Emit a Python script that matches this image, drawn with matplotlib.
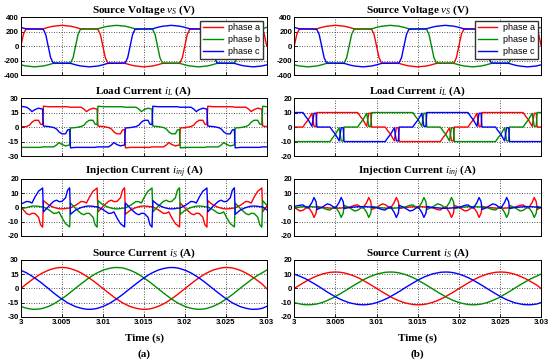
import numpy as np
import matplotlib.pyplot as plt

plt.rcParams['font.family'] = 'Liberation Sans'
plt.rcParams['axes.unicode_minus'] = False
plt.rcParams['mathtext.fontset'] = 'custom'
plt.rcParams['mathtext.rm'] = 'Liberation Serif:bold'
plt.rcParams['mathtext.it'] = 'Liberation Serif:italic'
plt.rcParams['mathtext.bf'] = 'Liberation Serif:bold'

# sample times in ms after t = 3 s
v_ms = [0.0, 0.3, 0.6, 1.67, 2.73, 3.03,
        3.33, 3.63, 3.93, 5.0, 6.07, 6.37,
        6.67, 6.97, 7.27, 8.33, 9.4, 9.7,
        10.0, 10.3, 10.6, 11.67, 12.73, 13.03,
        13.33, 13.63, 13.93, 15.0, 16.07, 16.37,
        16.67, 16.97, 17.27, 18.33, 19.4, 19.7,
        20.0, 20.3, 20.6, 21.67, 22.73, 23.03,
        23.33, 23.63, 23.93, 25.0, 26.07, 26.37,
        26.67, 26.97, 27.27, 28.33, 29.4, 29.7,
        30.0]

t_ms = [0.0,
        0.7, 1.05, 1.35, 1.7, 2.15, 2.4, 2.65, 2.75, 3.4,
        4.0, 4.35, 4.65, 5.0, 5.45, 5.7, 5.95, 6.05, 6.7,
        7.35, 7.7, 8.0, 8.35, 8.8, 9.05, 9.3, 9.4, 10.05,
        10.7, 11.05, 11.35, 11.7, 12.15, 12.4, 12.65, 12.75, 13.4,
        14.05, 14.4, 14.7, 15.05, 15.5, 15.75, 16.0, 16.1, 16.75,
        17.4, 17.75, 18.05, 18.4, 18.85, 19.1, 19.35, 19.45, 20.1,
        20.75, 21.1, 21.4, 21.75, 22.2, 22.45, 22.7, 22.8, 23.45,
        24.1, 24.45, 24.75, 25.1, 25.55, 25.8, 26.05, 26.15, 26.8,
        27.45, 27.8, 28.1, 28.45, 28.9, 29.15, 29.4, 29.5, 30.0]

# source voltage (same in (a) and (b))
vs_a = [0, 160, 232, 236, 238, 248,
        258, 266, 273, 286, 274, 266,
        258, 248, 238, 236, 232, 160,
        0, -160, -232, -236, -238, -248,
        -258, -266, -273, -286, -274, -266,
        -258, -248, -238, -236, -232, -160,
        0, 160, 232, 236, 238, 248,
        258, 266, 273, 286, 274, 266,
        258, 248, 238, 236, 232, 160,
        0]
vs_b = [-258, -266, -273, -286, -274, -266,
        -258, -248, -238, -236, -232, -160,
        0, 160, 232, 236, 238, 248,
        258, 266, 273, 286, 274, 266,
        258, 248, 238, 236, 232, 160,
        0, -160, -232, -236, -238, -248,
        -258, -266, -273, -286, -274, -266,
        -258, -248, -238, -236, -232, -160,
        0, 160, 232, 236, 238, 248,
        258]
vs_c = [258, 248, 238, 236, 232, 160,
        0, -160, -232, -236, -238, -248,
        -258, -266, -273, -286, -274, -266,
        -258, -248, -238, -236, -232, -160,
        0, 160, 232, 236, 238, 248,
        258, 266, 273, 286, 274, 266,
        258, 248, 238, 236, 232, 160,
        0, -160, -232, -236, -238, -248,
        -258, -266, -273, -286, -274, -266,
        -258]

# (a) load current
il1_a = [0.3,
         0.5, 2, 5, 7, 7, 3, 2.5, 21.5, 21,
         21, 21, 21, 21, 21, 21, 20.5, 20.5, 20.5,
         20.5, 18.5, 16, 18, 19.5, 19, 18.5, 1, 0.5,
         -0.5, -2, -5, -7, -7, -3, -2.5, -21.5, -21,
         -21, -21, -21, -21, -21, -21, -20.5, -20.5, -20.5,
         -20.5, -18.5, -16, -18, -19.5, -19, -18.5, -1, -0.5,
         0.5, 2, 5, 7, 7, 3, 2.5, 21.5, 21,
         21, 21, 21, 21, 21, 21, 20.5, 20.5, 20.5,
         20.5, 18.5, 16, 18, 19.5, 19, 18.5, 1, 0.5]
il1_b = [-21,
         -21, -21, -21, -21, -21, -21, -20.5, -20.5, -20.5,
         -20.5, -18.5, -16, -18, -19.5, -19, -18.5, -1, -0.5,
         0.5, 2, 5, 7, 7, 3, 2.5, 21.5, 21,
         21, 21, 21, 21, 21, 21, 20.5, 20.5, 20.5,
         20.5, 18.5, 16, 18, 19.5, 19, 18.5, 1, 0.5,
         -0.5, -2, -5, -7, -7, -3, -2.5, -21.5, -21,
         -21, -21, -21, -21, -21, -21, -20.5, -20.5, -20.5,
         -20.5, -18.5, -16, -18, -19.5, -19, -18.5, -1, -0.5,
         0.5, 2, 5, 7, 7, 3, 2.5, 21.5, 21]
il1_c = [21.5,
         20.5, 18.5, 16, 18, 19.5, 19, 18.5, 1, 0.5,
         -0.5, -2, -5, -7, -7, -3, -2.5, -21.5, -21,
         -21, -21, -21, -21, -21, -21, -20.5, -20.5, -20.5,
         -20.5, -18.5, -16, -18, -19.5, -19, -18.5, -1, -0.5,
         0.5, 2, 5, 7, 7, 3, 2.5, 21.5, 21,
         21, 21, 21, 21, 21, 21, 20.5, 20.5, 20.5,
         20.5, 18.5, 16, 18, 19.5, 19, 18.5, 1, 0.5,
         -0.5, -2, -5, -7, -7, -3, -2.5, -21.5, -21,
         -21, -21, -21, -21, -21, -21, -20.5, -20.5, -20.5]

# (a) injection current
ij1_a = [0.3,
         -4.3, -5.1, -4.1, -4.2, -6.8, -12.1, -13.8, 4.8, 1.7,
         0.1, -0.5, -0.9, -1.0, -0.8, -0.5, -0.5, -0.3, 1.6,
         4.2, 4.0, 3.1, 7.1, 11.4, 12.5, 13.7, -3.1, 0.9,
         4.3, 5.1, 4.1, 4.2, 6.8, 12.1, 13.8, -4.8, -1.7,
         -0.1, 0.5, 0.9, 1.0, 0.8, 0.5, 0.5, 0.3, -1.6,
         -4.2, -4.0, -3.1, -7.1, -11.4, -12.5, -13.7, 3.1, -0.9,
         -4.3, -5.1, -4.1, -4.2, -6.8, -12.1, -13.8, 4.8, 1.7,
         0.1, -0.5, -0.9, -1.0, -0.8, -0.5, -0.5, -0.3, 1.6,
         4.2, 4.0, 3.1, 7.1, 11.4, 12.5, 13.7, -3.1, 0.9]
ij1_b = [-0.8,
         -0.1, 0.5, 0.9, 1.0, 0.8, 0.5, 0.5, 0.3, -1.6,
         -4.2, -4.0, -3.1, -7.1, -11.4, -12.5, -13.7, 3.1, -0.9,
         -4.3, -5.1, -4.1, -4.2, -6.8, -12.1, -13.8, 4.8, 1.7,
         0.1, -0.5, -0.9, -1.0, -0.8, -0.5, -0.5, -0.3, 1.6,
         4.2, 4.0, 3.1, 7.1, 11.4, 12.5, 13.7, -3.1, 0.9,
         4.3, 5.1, 4.1, 4.2, 6.8, 12.1, 13.8, -4.8, -1.7,
         -0.1, 0.5, 0.9, 1.0, 0.8, 0.5, 0.5, 0.3, -1.6,
         -4.2, -4.0, -3.1, -7.1, -11.4, -12.5, -13.7, 3.1, -0.9,
         -4.3, -5.1, -4.1, -4.2, -6.8, -12.1, -13.8, 4.8, 1.7]
ij1_c = [2.4,
         4.2, 4.0, 3.1, 7.1, 11.4, 12.5, 13.7, -3.1, 0.9,
         4.3, 5.1, 4.1, 4.2, 6.8, 12.1, 13.8, -4.8, -1.7,
         -0.1, 0.5, 0.9, 1.0, 0.8, 0.5, 0.5, 0.3, -1.6,
         -4.2, -4.0, -3.1, -7.1, -11.4, -12.5, -13.7, 3.1, -0.9,
         -4.3, -5.1, -4.1, -4.2, -6.8, -12.1, -13.8, 4.8, 1.7,
         0.1, -0.5, -0.9, -1.0, -0.8, -0.5, -0.5, -0.3, 1.6,
         4.2, 4.0, 3.1, 7.1, 11.4, 12.5, 13.7, -3.1, 0.9,
         4.3, 5.1, 4.1, 4.2, 6.8, 12.1, 13.8, -4.8, -1.7,
         -0.1, 0.5, 0.9, 1.0, 0.8, 0.5, 0.5, 0.3, -1.6]

# (a) source current
is1_a = [0,
         4.8, 7.1, 9.1, 11.2, 13.8, 15.1, 16.3, 16.7, 19.3,
         20.9, 21.5, 21.9, 22.0, 21.8, 21.5, 21.0, 20.8, 18.9,
         16.3, 14.5, 12.9, 10.9, 8.1, 6.5, 4.8, 4.1, -0.4,
         -4.8, -7.1, -9.1, -11.2, -13.8, -15.1, -16.3, -16.7, -19.3,
         -20.9, -21.5, -21.9, -22.0, -21.8, -21.5, -21.0, -20.8, -18.9,
         -16.3, -14.5, -12.9, -10.9, -8.1, -6.5, -4.8, -4.1, 0.4,
         4.8, 7.1, 9.1, 11.2, 13.8, 15.1, 16.3, 16.7, 19.3,
         20.9, 21.5, 21.9, 22.0, 21.8, 21.5, 21.0, 20.8, 18.9,
         16.3, 14.5, 12.9, 10.9, 8.1, 6.5, 4.8, 4.1, -0.4]
is1_b = [-19.1,
         -20.9, -21.5, -21.9, -22.0, -21.8, -21.5, -21.0, -20.8, -18.9,
         -16.3, -14.5, -12.9, -10.9, -8.1, -6.5, -4.8, -4.1, 0.4,
         4.8, 7.1, 9.1, 11.2, 13.8, 15.1, 16.3, 16.7, 19.3,
         20.9, 21.5, 21.9, 22.0, 21.8, 21.5, 21.0, 20.8, 18.9,
         16.3, 14.5, 12.9, 10.9, 8.1, 6.5, 4.8, 4.1, -0.4,
         -4.8, -7.1, -9.1, -11.2, -13.8, -15.1, -16.3, -16.7, -19.3,
         -20.9, -21.5, -21.9, -22.0, -21.8, -21.5, -21.0, -20.8, -18.9,
         -16.3, -14.5, -12.9, -10.9, -8.1, -6.5, -4.8, -4.1, 0.4,
         4.8, 7.1, 9.1, 11.2, 13.8, 15.1, 16.3, 16.7, 19.3]
is1_c = [19.1,
         16.3, 14.5, 12.9, 10.9, 8.1, 6.5, 4.8, 4.1, -0.4,
         -4.8, -7.1, -9.1, -11.2, -13.8, -15.1, -16.3, -16.7, -19.3,
         -20.9, -21.5, -21.9, -22.0, -21.8, -21.5, -21.0, -20.8, -18.9,
         -16.3, -14.5, -12.9, -10.9, -8.1, -6.5, -4.8, -4.1, 0.4,
         4.8, 7.1, 9.1, 11.2, 13.8, 15.1, 16.3, 16.7, 19.3,
         20.9, 21.5, 21.9, 22.0, 21.8, 21.5, 21.0, 20.8, 18.9,
         16.3, 14.5, 12.9, 10.9, 8.1, 6.5, 4.8, 4.1, -0.4,
         -4.8, -7.1, -9.1, -11.2, -13.8, -15.1, -16.3, -16.7, -19.3,
         -20.9, -21.5, -21.9, -22.0, -21.8, -21.5, -21.0, -20.8, -18.9]

# (b) load current
il2_a = [0,
         0, 0, 2.5, 5, 9.5, 0.5, 0.5, 10, 10,
         10, 10, 10, 10, 10, 10, 10, 10, 10,
         10, 10, 7.5, 5, 0.5, 9.5, 9.5, 0, 0,
         0, 0, -2.5, -5, -9.5, -0.5, -0.5, -10, -10,
         -10, -10, -10, -10, -10, -10, -10, -10, -10,
         -10, -10, -7.5, -5, -0.5, -9.5, -9.5, 0, 0,
         0, 0, 2.5, 5, 9.5, 0.5, 0.5, 10, 10,
         10, 10, 10, 10, 10, 10, 10, 10, 10,
         10, 10, 7.5, 5, 0.5, 9.5, 9.5, 0, 0]
il2_b = [-10,
         -10, -10, -10, -10, -10, -10, -10, -10, -10,
         -10, -10, -7.5, -5, -0.5, -9.5, -9.5, 0, 0,
         0, 0, 2.5, 5, 9.5, 0.5, 0.5, 10, 10,
         10, 10, 10, 10, 10, 10, 10, 10, 10,
         10, 10, 7.5, 5, 0.5, 9.5, 9.5, 0, 0,
         0, 0, -2.5, -5, -9.5, -0.5, -0.5, -10, -10,
         -10, -10, -10, -10, -10, -10, -10, -10, -10,
         -10, -10, -7.5, -5, -0.5, -9.5, -9.5, 0, 0,
         0, 0, 2.5, 5, 9.5, 0.5, 0.5, 10, 10]
il2_c = [10,
         10, 10, 7.5, 5, 0.5, 9.5, 9.5, 0, 0,
         0, 0, -2.5, -5, -9.5, -0.5, -0.5, -10, -10,
         -10, -10, -10, -10, -10, -10, -10, -10, -10,
         -10, -10, -7.5, -5, -0.5, -9.5, -9.5, 0, 0,
         0, 0, 2.5, 5, 9.5, 0.5, 0.5, 10, 10,
         10, 10, 10, 10, 10, 10, 10, 10, 10,
         10, 10, 7.5, 5, 0.5, 9.5, 9.5, 0, 0,
         0, 0, -2.5, -5, -9.5, -0.5, -0.5, -10, -10,
         -10, -10, -10, -10, -10, -10, -10, -10, -10]

# (b) injection current
ij2_a = [0,
         -2.5, -2.0, -0.8, 0.5, -3.5, -7.0, -4.0, 0.8, 0.0,
         -0.3, -0.5, -0.6, -0.6, -0.5, -0.4, -0.3, -0.2, 0.2,
         1.5, 1.8, 0.5, -0.5, 3.5, 7.0, 4.0, -1.5, 0.2,
         2.5, 2.0, 0.8, -0.5, 3.5, 7.0, 4.0, -0.8, 0.0,
         0.3, 0.5, 0.6, 0.6, 0.5, 0.4, 0.3, 0.2, -0.2,
         -1.5, -1.8, -0.5, 0.5, -3.5, -7.0, -4.0, 1.5, -0.2,
         -2.5, -2.0, -0.8, 0.5, -3.5, -7.0, -4.0, 0.8, 0.0,
         -0.3, -0.5, -0.6, -0.6, -0.5, -0.4, -0.3, -0.2, 0.2,
         1.5, 1.8, 0.5, -0.5, 3.5, 7.0, 4.0, -1.5, 0.2]
ij2_b = [-0.5,
         0.3, 0.5, 0.6, 0.6, 0.5, 0.4, 0.3, 0.2, -0.2,
         -1.5, -1.8, -0.5, 0.5, -3.5, -7.0, -4.0, 1.5, -0.2,
         -2.5, -2.0, -0.8, 0.5, -3.5, -7.0, -4.0, 0.8, 0.0,
         -0.3, -0.5, -0.6, -0.6, -0.5, -0.4, -0.3, -0.2, 0.2,
         1.5, 1.8, 0.5, -0.5, 3.5, 7.0, 4.0, -1.5, 0.2,
         2.5, 2.0, 0.8, -0.5, 3.5, 7.0, 4.0, -0.8, 0.0,
         0.3, 0.5, 0.6, 0.6, 0.5, 0.4, 0.3, 0.2, -0.2,
         -1.5, -1.8, -0.5, 0.5, -3.5, -7.0, -4.0, 1.5, -0.2,
         -2.5, -2.0, -0.8, 0.5, -3.5, -7.0, -4.0, 0.8, 0.0]
ij2_c = [0.8,
         1.5, 1.8, 0.5, -0.5, 3.5, 7.0, 4.0, -1.5, 0.2,
         2.5, 2.0, 0.8, -0.5, 3.5, 7.0, 4.0, -0.8, 0.0,
         0.3, 0.5, 0.6, 0.6, 0.5, 0.4, 0.3, 0.2, -0.2,
         -1.5, -1.8, -0.5, 0.5, -3.5, -7.0, -4.0, 1.5, -0.2,
         -2.5, -2.0, -0.8, 0.5, -3.5, -7.0, -4.0, 0.8, 0.0,
         -0.3, -0.5, -0.6, -0.6, -0.5, -0.4, -0.3, -0.2, 0.2,
         1.5, 1.8, 0.5, -0.5, 3.5, 7.0, 4.0, -1.5, 0.2,
         2.5, 2.0, 0.8, -0.5, 3.5, 7.0, 4.0, -0.8, 0.0,
         0.3, 0.5, 0.6, 0.6, 0.5, 0.4, 0.3, 0.2, -0.2]

# (b) source current
is2_a = [0,
         2.5, 3.7, 4.7, 5.9, 7.2, 7.9, 8.5, 8.7, 10.1,
         10.9, 11.3, 11.4, 11.5, 11.4, 11.2, 11.0, 10.9, 9.9,
         8.5, 7.6, 6.8, 5.7, 4.2, 3.4, 2.5, 2.2, -0.2,
         -2.5, -3.7, -4.7, -5.9, -7.2, -7.9, -8.5, -8.7, -10.1,
         -10.9, -11.3, -11.4, -11.5, -11.4, -11.2, -11.0, -10.9, -9.9,
         -8.5, -7.6, -6.8, -5.7, -4.2, -3.4, -2.5, -2.2, 0.2,
         2.5, 3.7, 4.7, 5.9, 7.2, 7.9, 8.5, 8.7, 10.1,
         10.9, 11.3, 11.4, 11.5, 11.4, 11.2, 11.0, 10.9, 9.9,
         8.5, 7.6, 6.8, 5.7, 4.2, 3.4, 2.5, 2.2, -0.2]
is2_b = [-10.0,
         -10.9, -11.3, -11.4, -11.5, -11.4, -11.2, -11.0, -10.9, -9.9,
         -8.5, -7.6, -6.8, -5.7, -4.2, -3.4, -2.5, -2.2, 0.2,
         2.5, 3.7, 4.7, 5.9, 7.2, 7.9, 8.5, 8.7, 10.1,
         10.9, 11.3, 11.4, 11.5, 11.4, 11.2, 11.0, 10.9, 9.9,
         8.5, 7.6, 6.8, 5.7, 4.2, 3.4, 2.5, 2.2, -0.2,
         -2.5, -3.7, -4.7, -5.9, -7.2, -7.9, -8.5, -8.7, -10.1,
         -10.9, -11.3, -11.4, -11.5, -11.4, -11.2, -11.0, -10.9, -9.9,
         -8.5, -7.6, -6.8, -5.7, -4.2, -3.4, -2.5, -2.2, 0.2,
         2.5, 3.7, 4.7, 5.9, 7.2, 7.9, 8.5, 8.7, 10.1]
is2_c = [10.0,
         8.5, 7.6, 6.8, 5.7, 4.2, 3.4, 2.5, 2.2, -0.2,
         -2.5, -3.7, -4.7, -5.9, -7.2, -7.9, -8.5, -8.7, -10.1,
         -10.9, -11.3, -11.4, -11.5, -11.4, -11.2, -11.0, -10.9, -9.9,
         -8.5, -7.6, -6.8, -5.7, -4.2, -3.4, -2.5, -2.2, 0.2,
         2.5, 3.7, 4.7, 5.9, 7.2, 7.9, 8.5, 8.7, 10.1,
         10.9, 11.3, 11.4, 11.5, 11.4, 11.2, 11.0, 10.9, 9.9,
         8.5, 7.6, 6.8, 5.7, 4.2, 3.4, 2.5, 2.2, -0.2,
         -2.5, -3.7, -4.7, -5.9, -7.2, -7.9, -8.5, -8.7, -10.1,
         -10.9, -11.3, -11.4, -11.5, -11.4, -11.2, -11.0, -10.9, -9.9]

x_ticks = [3, 3.005, 3.01, 3.015, 3.02, 3.025, 3.03]
x_labels = ['3', '3.005', '3.01', '3.015', '3.02', '3.025', '3.03']
phase_names = ['phase a', 'phase b', 'phase c']
colors = ['#ff0000', '#008c00', '#0000ff']

titles = ['Source Voltage $v_S$ (V)', 'Load Current $i_L$ (A)',
          'Injection Current $i_{inj}$ (A)', 'Source Current $i_S$ (A)']
yticks_a = [[-400, -200, 0, 200, 400], [-30, -15, 0, 15, 30],
            [-20, -10, 0, 10, 20], [-30, -15, 0, 15, 30]]
yticks_b = [[-400, -200, 0, 200, 400], [-20, -10, 0, 10, 20],
            [-20, -10, 0, 10, 20], [-20, -10, 0, 10, 20]]


def draw(ax, tt, series, yt, title, row):
    x = 3 + np.array(tt) / 1000.0
    lines = []
    for y, c in zip(series, colors):
        ln, = ax.plot(x, y, color=c, lw=1.0)
        lines.append(ln)
    ax.set_xlim(3, 3.03)
    ax.set_ylim(yt[0], yt[-1])
    ax.set_xticks(x_ticks)
    ax.set_yticks(yt)
    ax.set_yticklabels([str(v) for v in yt], fontweight='bold')
    ax.set_xticklabels(x_labels, fontweight='bold')
    ax.tick_params(direction='in', length=2, width=0.6, labelsize=5.6, pad=1.5)
    if row < 3:
        ax.tick_params(labelbottom=False)
    ax.grid(True, color='#222222', linestyle=(0, (1, 2)), linewidth=0.6)
    for s in ax.spines.values():
        s.set_linewidth(0.7)
    ax.set_title(title, fontsize=8, fontweight='bold', family='Liberation Serif', pad=3)
    if row == 0:
        ax.legend(lines, phase_names, loc='upper right', fontsize=6.5, fancybox=False,
                  edgecolor='#333333', framealpha=1, handlelength=2.2, labelspacing=0.3,
                  borderpad=0.3, borderaxespad=0.4, handletextpad=0.6)


fig = plt.figure(figsize=(5.5, 3.63), dpi=100)
rows_y = [0.793, 0.570, 0.350, 0.127]
rows_h = [0.160, 0.160, 0.157, 0.157]

left_data = [(v_ms, [vs_a, vs_b, vs_c]), (t_ms, [il1_a, il1_b, il1_c]),
             (t_ms, [ij1_a, ij1_b, ij1_c]), (t_ms, [is1_a, is1_b, is1_c])]
right_data = [(v_ms, [vs_a, vs_b, vs_c]), (t_ms, [il2_a, il2_b, il2_c]),
              (t_ms, [ij2_a, ij2_b, ij2_c]), (t_ms, [is2_a, is2_b, is2_c])]

for r in range(4):
    ax = fig.add_axes([0.038, rows_y[r], 0.447, rows_h[r]])
    draw(ax, left_data[r][0], left_data[r][1], yticks_a[r], titles[r], r)
    ax = fig.add_axes([0.535, rows_y[r], 0.449, rows_h[r]])
    draw(ax, right_data[r][0], right_data[r][1], yticks_b[r], titles[r], r)

for xc, lab in [(0.262, '(a)'), (0.759, '(b)')]:
    fig.text(xc, 0.069, 'Time (s)', ha='center', va='center', fontsize=8,
             fontweight='bold', family='Liberation Serif')
    fig.text(xc, 0.025, lab, ha='center', va='center', fontsize=8,
             fontweight='bold', family='Liberation Serif')

fig.savefig('out.png', dpi=100)
